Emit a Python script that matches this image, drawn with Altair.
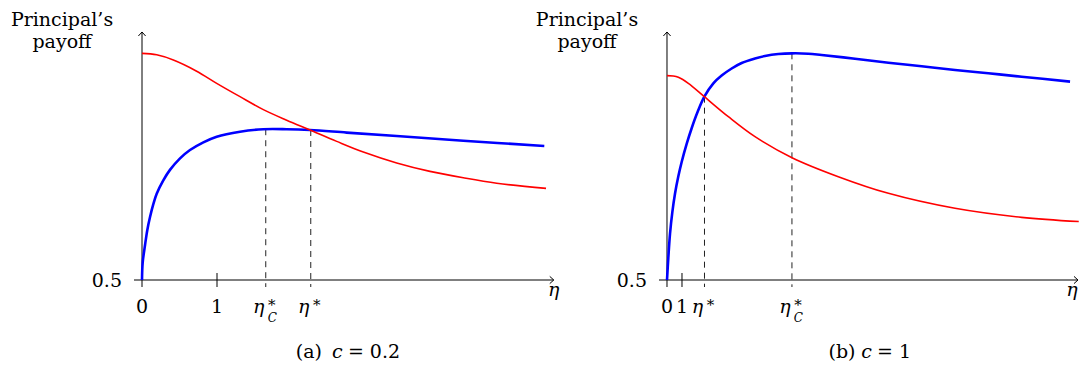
import altair as alt
import pandas as pd

FONT = "DejaVu Serif"
FS = 19

# ---------------- panel (a): c = 0.2 ----------------
a_red_eta = [0, 0.196, 0.418, 0.729, 0.996, 1.307, 1.618, 1.929, 2.24, 2.596,
             2.951, 3.396, 3.84, 4.284, 4.729, 5.387]
a_red_val = [0.957, 0.954, 0.9435, 0.921, 0.8965, 0.8696, 0.8435, 0.8222, 0.8024,
             0.7795, 0.7580, 0.7360, 0.7190, 0.7060, 0.6950, 0.6848]
a_blue_eta = [0, 0.009, 0.04, 0.071, 0.107, 0.151, 0.196, 0.284, 0.373, 0.507, 0.64,
              0.818, 0.996, 1.307, 1.618, 1.929, 2.24, 2.729, 3.396, 4.284, 5.364]
a_blue_val = [0.5, 0.535, 0.570, 0.601, 0.627, 0.653, 0.674, 0.701, 0.722,
              0.7453, 0.7621, 0.7776, 0.7890, 0.7990, 0.8040, 0.8040, 0.8024, 0.7972,
              0.7903, 0.7809, 0.7702]
a_tick_vals = [0, 1]
a_tick_text = ["0", "1"]
a_star_eta = [1.65, 2.25]          # eta*_C, eta*
a_star_top = [0.8040, 0.8024]
a_star_sub = ["C", ""]
a_xmax = 5.49
a_caption = ["(a)", "c", "= 0.2"]

# ---------------- panel (b): c = 1 ----------------
b_red_eta = [0, 0.42, 0.756, 1.422, 2.489, 4.089, 5.867, 8.333, 11.42, 14.76,
             19.2, 23.64, 27.45]
b_red_val = [0.912, 0.9113, 0.9086, 0.8965, 0.8696, 0.8293, 0.7890, 0.7466, 0.7083,
             0.6747, 0.6445, 0.6263, 0.6178]
b_blue_eta = [0, 0.089, 0.2, 0.356, 0.533, 0.756, 0.978, 1.311, 1.644, 2.044, 2.489,
              3.089, 3.644, 4.311, 4.978, 5.867, 6.533, 7.422, 8.333, 9.422, 10.31,
              12.53, 14.76, 16.98, 19.2, 21.42, 23.64, 26.87]
b_blue_val = [0.5, 0.545, 0.593, 0.637, 0.674, 0.709, 0.738, 0.7745, 0.806,
              0.839, 0.8696, 0.8965, 0.9122, 0.9264, 0.9375, 0.9465, 0.9516, 0.9556,
              0.9570, 0.9563, 0.9536, 0.9462, 0.9381, 0.9308, 0.9234, 0.9167, 0.9099,
              0.8999]
b_tick_vals = [0, 1]
b_tick_text = ["0", "1"]
b_star_eta = [2.5, 8.33]           # eta*, eta*_C
b_star_top = [0.8696, 0.957]
b_star_sub = ["", "C"]
b_xmax = 27.4
b_caption = ["(b)", "c", "= 1"]

Y_BASE = 0.5
Y_TOP = 1.0
Y_DOMAIN = [0.336694, 1.048387]
A_XDOMAIN = [-1.78667, 12.49333]
B_XDOMAIN = [-43.9333, 27.4667]

W, H = 1071, 353


def panel(red_eta, red_val, blue_eta, blue_val, tick_vals, tick_text, star_eta,
          star_top, star_sub, xmax, xdomain, caption, cap_dx, eta_dx):
    xs = alt.Scale(domain=xdomain, nice=False, zero=False)
    ys = alt.Scale(domain=Y_DOMAIN, nice=False, zero=False)

    def X(f):
        return alt.X(f, type="quantitative", scale=xs, axis=None)

    def Y(f):
        return alt.Y(f, type="quantitative", scale=ys, axis=None)

    txt = dict(font=FONT, color="black", baseline="alphabetic")
    layers = []
    # dashed guides
    dash = pd.DataFrame({"x": star_eta, "top": star_top, "base": [Y_BASE] * len(star_eta)})
    layers.append(alt.Chart(dash).mark_rule(color="#222222", strokeWidth=1,
                                            strokeDash=[6, 5], y2Offset=7)
                  .encode(x=X("x"), y=Y("top"), y2=alt.Y2("base")))
    # axes
    xa = pd.DataFrame({"x0": [0], "x1": [xmax], "y": [Y_BASE]})
    layers.append(alt.Chart(xa).mark_rule(color="black", strokeWidth=1, xOffset=-8)
                  .encode(x=X("x0"), x2=alt.X2("x1"), y=Y("y")))
    ya = pd.DataFrame({"x": [0], "y0": [Y_BASE], "y1": [Y_TOP]})
    layers.append(alt.Chart(ya).mark_rule(color="black", strokeWidth=1)
                  .encode(x=X("x"), y=Y("y0"), y2=alt.Y2("y1")))
    # ticks
    tk = pd.DataFrame({"x": tick_vals, "y": [Y_BASE] * len(tick_vals)})
    layers.append(alt.Chart(tk).mark_rule(color="black", strokeWidth=1,
                                          yOffset=-7, y2Offset=7)
                  .encode(x=X("x"), y=Y("y"), y2=alt.Y2("y")))
    # arrow heads
    arrow = "M-1,-0.9L0,0L-1,0.9"
    ar1 = pd.DataFrame({"x": [xmax], "y": [Y_BASE]})
    layers.append(alt.Chart(ar1).mark_point(shape=arrow, filled=False, stroke="black",
                                            strokeWidth=1, size=64, opacity=1)
                  .encode(x=X("x"), y=Y("y")))
    ar2 = pd.DataFrame({"x": [0], "y": [Y_TOP]})
    layers.append(alt.Chart(ar2).mark_point(shape=arrow, filled=False, stroke="black",
                                            strokeWidth=1, size=64, opacity=1, angle=270)
                  .encode(x=X("x"), y=Y("y")))
    # curves
    blue = pd.DataFrame({"eta": blue_eta, "v": blue_val})
    layers.append(alt.Chart(blue).mark_line(color="#0000ff", strokeWidth=2.6,
                                            interpolate="catmull-rom")
                  .encode(x=X("eta"), y=Y("v")))
    red = pd.DataFrame({"eta": red_eta, "v": red_val})
    layers.append(alt.Chart(red).mark_line(color="#ff0000", strokeWidth=1.6,
                                           interpolate="catmull-rom")
                  .encode(x=X("eta"), y=Y("v")))
    # tick labels
    tl = pd.DataFrame({"x": tick_vals, "y": [Y_BASE] * len(tick_vals), "t": tick_text})
    layers.append(alt.Chart(tl).mark_text(fontSize=FS, dy=33, align="center", **txt)
                  .encode(x=X("x"), y=Y("y"), text="t:N"))
    sl = pd.DataFrame({"x": star_eta, "y": [Y_BASE] * len(star_eta), "sub": star_sub})
    layers.append(alt.Chart(sl).mark_text(fontSize=FS, fontStyle="italic", dy=33, dx=-7,
                                          align="center", text="η", **txt)
                  .encode(x=X("x"), y=Y("y")))
    layers.append(alt.Chart(sl).mark_text(fontSize=15, dy=30, dx=6, align="center",
                                          text="*", **txt)
                  .encode(x=X("x"), y=Y("y")))
    layers.append(alt.Chart(sl).mark_text(fontSize=12, fontStyle="italic", dy=42,
                                          dx=6.5, align="center", **txt)
                  .encode(x=X("x"), y=Y("y"), text="sub:N"))
    # 0.5 label
    yl = pd.DataFrame({"x": [0], "y": [Y_BASE], "t": ["0.5"]})
    layers.append(alt.Chart(yl).mark_text(fontSize=FS, dx=-20, dy=7, align="right", **txt)
                  .encode(x=X("x"), y=Y("y"), text="t:N"))
    # eta axis label
    el = pd.DataFrame({"x": [xmax], "y": [Y_BASE], "t": ["η"]})
    layers.append(alt.Chart(el).mark_text(fontSize=FS, fontStyle="italic", dy=16,
                                          dx=eta_dx, align="center", **txt)
                  .encode(x=X("x"), y=Y("y"), text="t:N"))
    # y title
    yt = pd.DataFrame({"x": [0], "y": [Y_TOP], "t": ["Principal’s\npayoff"]})
    layers.append(alt.Chart(yt).mark_text(fontSize=FS, dx=-80, dy=-6, lineBreak="\n",
                                          lineHeight=22, align="center", **txt)
                  .encode(x=X("x"), y=Y("y"), text="t:N"))
    # caption
    cp = pd.DataFrame({"x": [xmax / 2], "y": [Y_BASE], "a": [caption[0]],
                       "c": [caption[1]], "e": [caption[2]]})
    layers.append(alt.Chart(cp).mark_text(fontSize=FS, dx=cap_dx[0], dy=77.5,
                                          align="right", **txt)
                  .encode(x=X("x"), y=Y("y"), text="a:N"))
    layers.append(alt.Chart(cp).mark_text(fontSize=FS, fontStyle="italic",
                                          dx=cap_dx[1], dy=77.5, align="center", **txt)
                  .encode(x=X("x"), y=Y("y"), text="c:N"))
    layers.append(alt.Chart(cp).mark_text(fontSize=FS, dx=cap_dx[2], dy=77.5,
                                          align="left", **txt)
                  .encode(x=X("x"), y=Y("y"), text="e:N"))
    return layers


layers = panel(a_red_eta, a_red_val, a_blue_eta, a_blue_val, a_tick_vals, a_tick_text,
               a_star_eta, a_star_top, a_star_sub, a_xmax, A_XDOMAIN, a_caption,
               [-26, -10.5, 0], 0)
layers += panel(b_red_eta, b_red_val, b_blue_eta, b_blue_val, b_tick_vals, b_tick_text,
                b_star_eta, b_star_top, b_star_sub, b_xmax, B_XDOMAIN, b_caption,
                [-17, -6, 4.5], -6)

chart = (
    alt.layer(*layers)
    .resolve_scale(x="independent")
    .properties(width=W, height=H, padding=0,
                autosize=alt.AutoSizeParams(type="none"))
    .configure_view(stroke=None)
)

chart.save("out.html", embed_options={"renderer": "svg", "actions": False})
